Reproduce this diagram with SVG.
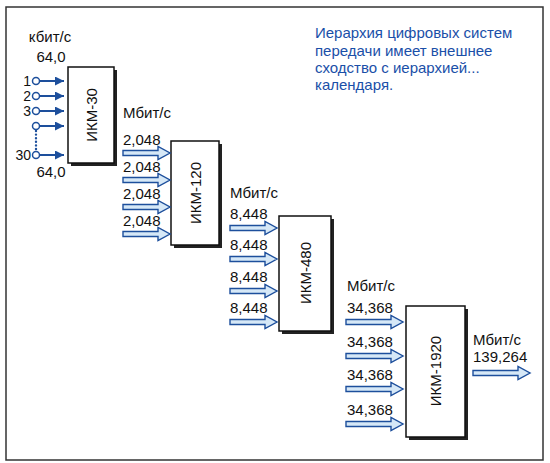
<svg xmlns="http://www.w3.org/2000/svg" width="550" height="463" viewBox="0 0 550 463">
<style>
.t{font-family:"Liberation Sans",Arial,sans-serif;font-size:15px;fill:#111}
.n{font-family:"Liberation Sans",Arial,sans-serif;font-size:14px;fill:#111;text-anchor:end}
.note{font-family:"Liberation Sans",Arial,sans-serif;font-size:15px;fill:#1a4fa8}
.box{fill:#fff;stroke:#111;stroke-width:1.5}
.sh{fill:#222}
.ha{fill:#d6e8f7;stroke:#1d4f9c;stroke-width:1.4;stroke-linejoin:miter}
.sl{stroke:#1d4f9c;stroke-width:2;fill:none}
.cir{fill:#fff;stroke:#1d4f9c;stroke-width:1.5}
.bl{font-family:"Liberation Sans",Arial,sans-serif;font-size:15px;fill:#111;text-anchor:middle;dominant-baseline:central}
</style>
<defs>
<path id="ha47" d="M0,-2.5 H35 V-6.5 L47,0 L35,6.5 V2.5 H0 Z"/>
<path id="ha57" d="M0,-2.5 H45 V-6.5 L57,0 L45,6.5 V2.5 H0 Z"/>
<marker id="ah" viewBox="0 0 10 10" refX="10" refY="5" markerWidth="4.5" markerHeight="4.5" orient="auto" markerUnits="strokeWidth">
<path d="M0,0 L10,5 L0,10 Z" fill="#1d4f9c"/>
</marker>
</defs>
<rect x="6" y="7" width="537" height="453" fill="#fff" stroke="#333" stroke-width="1.5"/>
<g id="note">
<text class="note" x="315" y="38">Иерархия цифровых систем</text>
<text class="note" x="315" y="56">передачи имеет внешнее</text>
<text class="note" x="315" y="73">сходство с иерархией...</text>
<text class="note" x="315" y="90">календаря.</text>
</g>
<g id="ikm30">
<rect class="sh" x="71" y="70" width="46" height="96"/>
<rect class="box" x="68" y="67" width="46" height="96"/>
<text class="bl" transform="translate(91,115) rotate(-90)">ИКМ-30</text>
</g>
<g id="ikm120">
<rect class="sh" x="174" y="144" width="48" height="104"/>
<rect class="box" x="171" y="141" width="48" height="104"/>
<text class="bl" transform="translate(195,193) rotate(-90)">ИКМ-120</text>
</g>
<g id="ikm480">
<rect class="sh" x="282" y="219" width="52" height="115"/>
<rect class="box" x="279" y="216" width="52" height="115"/>
<text class="bl" transform="translate(305,273) rotate(-90)">ИКМ-480</text>
</g>
<g id="ikm1920">
<rect class="sh" x="409" y="309" width="59" height="131"/>
<rect class="box" x="406" y="306" width="59" height="131"/>
<text class="bl" transform="translate(435,371) rotate(-90)">ИКМ-1920</text>
</g>
<g id="connectors">
<g id="inputs30">
<line class="sl" x1="39.5" y1="81" x2="64" y2="81" marker-end="url(#ah)"/>
<line class="sl" x1="39.5" y1="96" x2="64" y2="96" marker-end="url(#ah)"/>
<line class="sl" x1="39.5" y1="111" x2="64" y2="111" marker-end="url(#ah)"/>
<line class="sl" x1="39.5" y1="126" x2="64" y2="126" marker-end="url(#ah)"/>
<line class="sl" x1="39.5" y1="155" x2="64" y2="155" marker-end="url(#ah)"/>
<line x1="36" y1="131" x2="36" y2="151" stroke="#1d4f9c" stroke-width="2.4" stroke-linecap="round" stroke-dasharray="0 3.6"/>
<circle class="cir" cx="36" cy="81" r="3.5"/>
<circle class="cir" cx="36" cy="96" r="3.5"/>
<circle class="cir" cx="36" cy="111" r="3.5"/>
<circle class="cir" cx="36" cy="126" r="3.5"/>
<circle class="cir" cx="36" cy="155" r="3.5"/>
</g>
<g id="out30">
<use href="#ha47" class="ha" x="123" y="153"/>
<use href="#ha47" class="ha" x="123" y="180"/>
<use href="#ha47" class="ha" x="123" y="207"/>
<use href="#ha47" class="ha" x="123" y="234"/>
</g>
<g id="out120">
<use href="#ha47" class="ha" x="230" y="228"/>
<use href="#ha47" class="ha" x="230" y="259"/>
<use href="#ha47" class="ha" x="230" y="291"/>
<use href="#ha47" class="ha" x="230" y="322"/>
</g>
<g id="out480">
<use href="#ha57" class="ha" x="346" y="322"/>
<use href="#ha57" class="ha" x="346" y="356"/>
<use href="#ha57" class="ha" x="346" y="389"/>
<use href="#ha57" class="ha" x="346" y="424"/>
</g>
<g id="out1920">
<use href="#ha57" class="ha" x="473" y="373"/>
</g>
</g>
<g id="labels">
<text class="t" x="50" y="42" text-anchor="middle">кбит/с</text>
<text class="t" x="51" y="62" text-anchor="middle">64,0</text>
<text class="n" x="31" y="86">1</text>
<text class="n" x="31" y="101">2</text>
<text class="n" x="31" y="116">3</text>
<text class="n" x="31" y="160">30</text>
<text class="t" x="51" y="177" text-anchor="middle">64,0</text>
<text class="t" x="123" y="118">Мбит/с</text>
<text class="t" x="123" y="145">2,048</text>
<text class="t" x="123" y="172">2,048</text>
<text class="t" x="123" y="199">2,048</text>
<text class="t" x="123" y="226">2,048</text>
<text class="t" x="230" y="198">Мбит/с</text>
<text class="t" x="230" y="219">8,448</text>
<text class="t" x="230" y="250">8,448</text>
<text class="t" x="230" y="282">8,448</text>
<text class="t" x="230" y="313">8,448</text>
<text class="t" x="347" y="291">Мбит/с</text>
<text class="t" x="347" y="313">34,368</text>
<text class="t" x="347" y="347">34,368</text>
<text class="t" x="347" y="380">34,368</text>
<text class="t" x="347" y="415">34,368</text>
<text class="t" x="473" y="345">Мбит/с</text>
<text class="t" x="473" y="362">139,264</text>
</g>
</svg>
